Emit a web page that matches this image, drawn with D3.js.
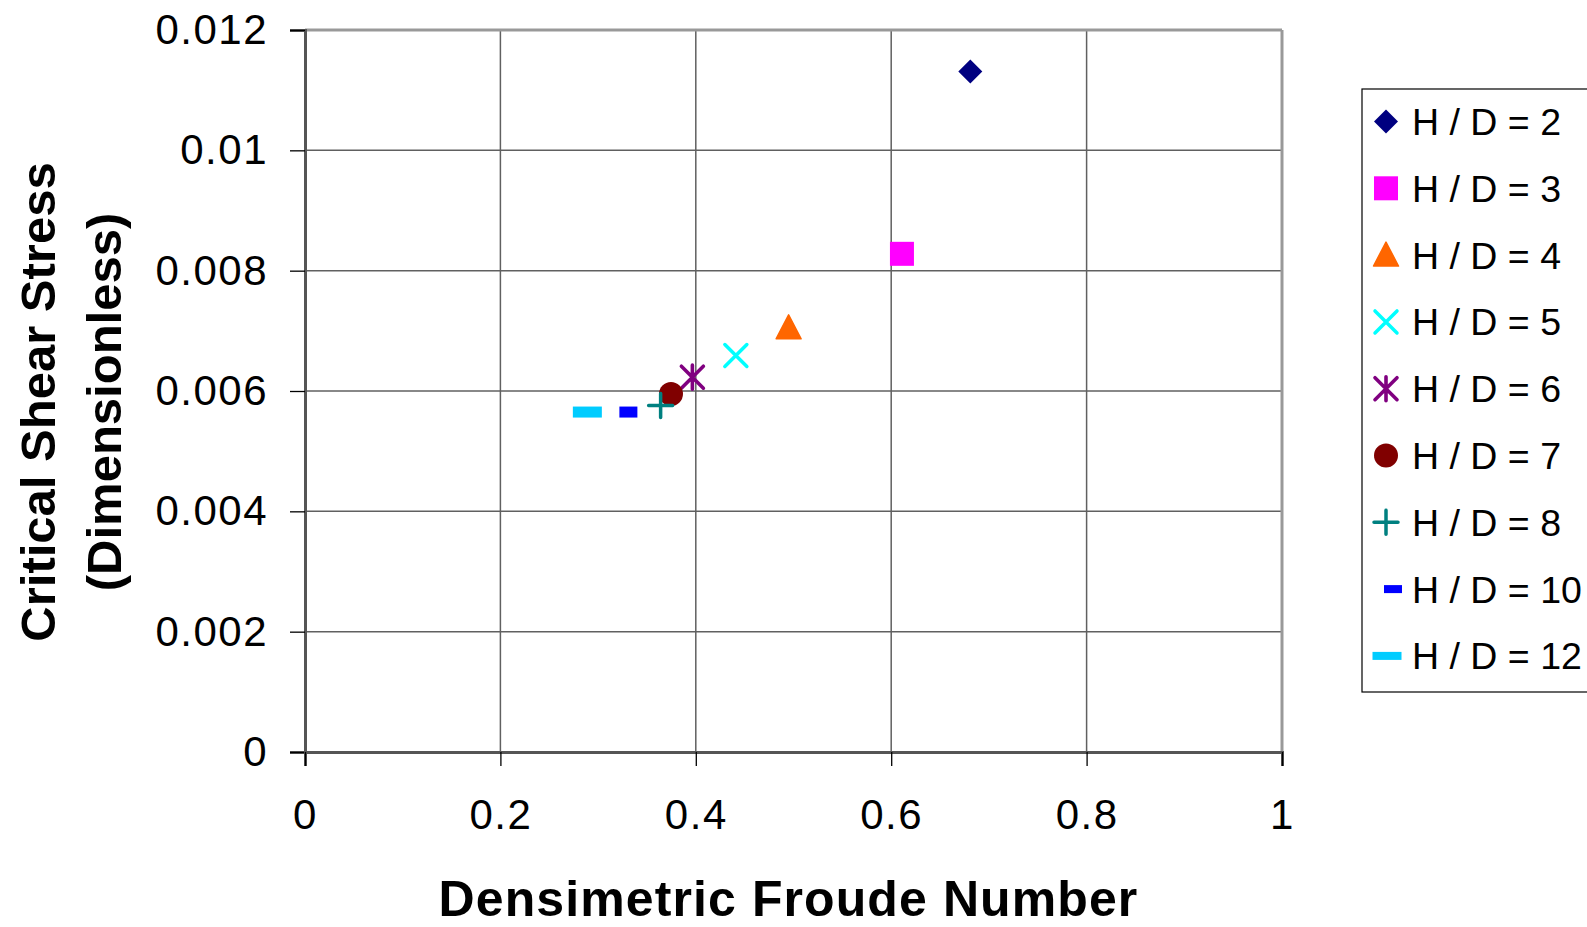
<!DOCTYPE html>
<html>
<head>
<meta charset="utf-8">
<script src="https://cdn.jsdelivr.net/npm/d3@7"></script>
<style>
  html, body { margin: 0; padding: 0; background: #fff; }
  svg { display: block; font-family: "Liberation Sans", Arial, sans-serif; }
</style>
</head>
<body>
<svg id="chart" width="1587" height="927"></svg>
<script>
// Series: H/D ratio, densimetric Froude number, critical shear stress
const seriesNames = ["H / D = 2", "H / D = 3", "H / D = 4", "H / D = 5", "H / D = 6",
                     "H / D = 7", "H / D = 8", "H / D = 10", "H / D = 12"];
const froude = [0.681, 0.611, 0.495, 0.441, 0.3965, 0.3746, 0.364, 0.331, 0.289];
const shear  = [0.01131, 0.00828, 0.00705, 0.00659, 0.00623, 0.00595, 0.00576, 0.00565, 0.00565];
const shapes = ["diamond", "square", "triangle", "x", "star", "circle", "plus", "dashShort", "dashLong"];
const colors = ["#000080", "#FF00FF", "#FF6600", "#00FFFF", "#800080", "#800000", "#008080", "#0000FF", "#00CCFF"];

const xTicks = [0, 0.2, 0.4, 0.6, 0.8, 1];
const xTickLabels = ["0", "0.2", "0.4", "0.6", "0.8", "1"];
const yTicks = [0, 0.002, 0.004, 0.006, 0.008, 0.01, 0.012];
const yTickLabels = ["0", "0.002", "0.004", "0.006", "0.008", "0.01", "0.012"];

const xTitle = "Densimetric Froude Number";
const yTitle = ["Critical Shear Stress", "(Dimensionless)"];

const svg = d3.select("#chart");
const plot = { left: 305, right: 1282, top: 30, bottom: 752 };

const x = d3.scaleLinear().domain([0, 1]).range([plot.left, plot.right]);
const y = d3.scaleLinear().domain([0, 0.012]).range([plot.bottom, plot.top]);

// Gridlines
const grid = svg.append("g");
grid.selectAll("line.gx").data(xTicks.slice(1, -1)).join("line")
  .attr("x1", d => x(d)).attr("x2", d => x(d))
  .attr("y1", plot.top).attr("y2", plot.bottom)
  .attr("stroke", "#606060").attr("stroke-width", 1.5);
grid.selectAll("line.gy").data(yTicks.slice(1, -1)).join("line")
  .attr("x1", plot.left).attr("x2", plot.right)
  .attr("y1", d => y(d)).attr("y2", d => y(d))
  .attr("stroke", "#606060").attr("stroke-width", 1.5);

// Plot frame: top and right lighter, axes darker
svg.append("line").attr("x1", plot.left).attr("x2", plot.right).attr("y1", plot.top).attr("y2", plot.top)
  .attr("stroke", "#999").attr("stroke-width", 3);
svg.append("line").attr("x1", plot.right).attr("x2", plot.right).attr("y1", plot.top).attr("y2", plot.bottom)
  .attr("stroke", "#999").attr("stroke-width", 3);

// Axes
const yAxis = d3.axisLeft(y).tickValues(yTicks)
  .tickFormat((d, i) => yTickLabels[i]).tickSize(15).tickPadding(22);
const gy = svg.append("g").attr("transform", `translate(${plot.left},0)`).call(yAxis);
gy.select(".domain").attr("stroke", "#555").attr("stroke-width", 3);
gy.selectAll(".tick line").attr("stroke", "#000").attr("stroke-width", 1.3);
gy.selectAll(".tick text").attr("font-size", 42).attr("fill", "#000")
  .attr("font-family", "'Liberation Sans', Arial, sans-serif").attr("letter-spacing", 1.5);

const xAxis = d3.axisBottom(x).tickValues(xTicks)
  .tickFormat((d, i) => xTickLabels[i]).tickSize(14).tickPadding(33);
const gx = svg.append("g").attr("transform", `translate(0,${plot.bottom})`).call(xAxis);
gx.select(".domain").attr("stroke", "#555").attr("stroke-width", 3);
gx.selectAll(".tick line").attr("stroke", "#000").attr("stroke-width", 1.3);
gx.selectAll(".tick text").attr("font-size", 42).attr("fill", "#000")
  .attr("font-family", "'Liberation Sans', Arial, sans-serif").attr("letter-spacing", 1.5);

// Axis titles
svg.append("text").attr("x", (plot.left + plot.right) / 2 - 5).attr("y", 916)
  .attr("text-anchor", "middle").attr("font-weight", "bold").attr("font-size", 50)
  .attr("letter-spacing", 1.1).text(xTitle);

const yt = svg.append("g").attr("transform", "translate(0,402) rotate(-90)");
yt.append("text").attr("x", 0).attr("y", 55).attr("text-anchor", "middle")
  .attr("font-weight", "bold").attr("font-size", 49).text(yTitle[0]);
yt.append("text").attr("x", 0).attr("y", 121).attr("text-anchor", "middle")
  .attr("font-weight", "bold").attr("font-size", 49).text(yTitle[1]);

// Marker drawing
function drawMarker(g, shape, color, cx, cy, legend) {
  const s = 12;
  switch (shape) {
    case "diamond":
      g.append("path").attr("d", `M${cx},${cy - s}L${cx + s},${cy}L${cx},${cy + s}L${cx - s},${cy}Z`).attr("fill", color);
      break;
    case "square":
      g.append("rect").attr("x", cx - s).attr("y", cy - s).attr("width", 2 * s).attr("height", 2 * s).attr("fill", color);
      break;
    case "triangle":
      g.append("path").attr("d", `M${cx},${cy - 13}L${cx + 12.5},${cy + 11}L${cx - 12.5},${cy + 11}Z`)
        .attr("fill", color).attr("stroke", color).attr("stroke-width", 1.5).attr("stroke-linejoin", "round");
      break;
    case "x":
      g.append("path").attr("d", `M${cx - 11},${cy - 11}L${cx + 11},${cy + 11}M${cx - 11},${cy + 11}L${cx + 11},${cy - 11}`)
        .attr("stroke", color).attr("stroke-width", 3.5).attr("stroke-linecap", "round");
      break;
    case "star":
      g.append("path").attr("d", `M${cx - 11},${cy - 11}L${cx + 11},${cy + 11}M${cx - 11},${cy + 11}L${cx + 11},${cy - 11}M${cx},${cy - 12}L${cx},${cy + 12}`)
        .attr("stroke", color).attr("stroke-width", 3.6).attr("stroke-linecap", "round");
      break;
    case "circle":
      g.append("circle").attr("cx", cx).attr("cy", cy).attr("r", 12).attr("fill", color);
      break;
    case "plus":
      g.append("path").attr("d", `M${cx - 12},${cy}L${cx + 12},${cy}M${cx},${cy - 12}L${cx},${cy + 12}`)
        .attr("stroke", color).attr("stroke-width", 3.5).attr("stroke-linecap", "round");
      break;
    case "dashShort": {
      const w = 18, h = legend ? 8 : 11;
      g.append("rect").attr("x", cx - w / 2).attr("y", cy - h / 2).attr("width", w).attr("height", h).attr("fill", color);
      break;
    }
    case "dashLong": {
      const w = 29, h = legend ? 8 : 11;
      g.append("rect").attr("x", cx - w / 2).attr("y", cy - h / 2).attr("width", w).attr("height", h).attr("fill", color);
      break;
    }
  }
}

// Data points
const pts = svg.append("g");
seriesNames.forEach((name, i) => {
  drawMarker(pts, shapes[i], colors[i], x(froude[i]), y(shear[i]), false);
});

// Legend
const legend = svg.append("g");
legend.append("rect").attr("x", 1362).attr("y", 89).attr("width", 260).attr("height", 603)
  .attr("fill", "#fff").attr("stroke", "#000").attr("stroke-width", 1.2);
const legendMarkerX = [1386, 1386, 1386, 1386, 1386, 1386, 1386, 1393, 1387];
seriesNames.forEach((name, i) => {
  const cy = 121.5 + i * 66.8;
  drawMarker(legend, shapes[i], colors[i], legendMarkerX[i], cy, true);
  legend.append("text").attr("x", 1412).attr("y", cy).attr("dy", "0.36em")
    .attr("font-size", 37.5).attr("fill", "#000").text(name);
});
</script>
</body>
</html>
